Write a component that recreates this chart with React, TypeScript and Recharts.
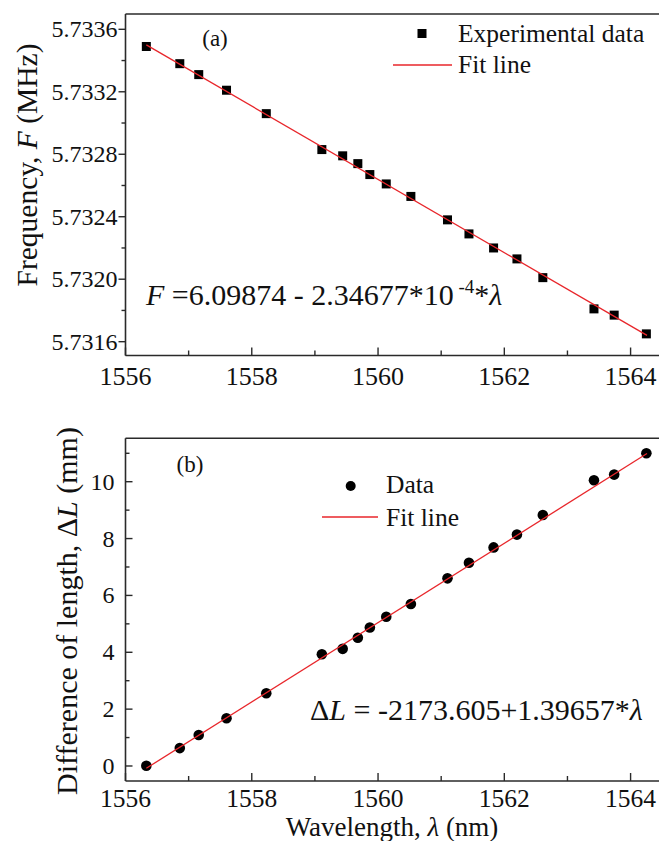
import React from 'react';
import { ScatterChart, Scatter, XAxis, YAxis } from 'recharts';

// values
const wavelength = [
  1556.33, 1556.86, 1557.16, 1557.6, 1558.23, 1559.11, 1559.44, 1559.68, 1559.87, 1560.13,
  1560.52, 1561.1, 1561.44, 1561.83, 1562.2, 1562.61, 1563.42, 1563.74, 1564.25,
];
const frequency = [
  5.73349, 5.73338, 5.73331, 5.73321, 5.73306, 5.73283, 5.73279, 5.73274, 5.73267, 5.73261,
  5.73253, 5.73238, 5.73229, 5.7322, 5.73213, 5.73201, 5.73181, 5.73177, 5.73165,
];
const deltaL = [
  0.01, 0.63, 1.09, 1.68, 2.56, 3.93, 4.12, 4.51, 4.87, 5.25, 5.7, 6.6, 7.15, 7.69, 8.14, 8.83,
  10.05, 10.25, 11.0,
];
const fitWavelength = [1556.33, 1564.26];
const fitFrequency = [5.7335, 5.73164];
const fitDeltaL = [-0.08, 10.99];

const xTicks = [1556, 1557, 1558, 1559, 1560, 1561, 1562, 1563, 1564];
const xLabels = ['1556', '1558', '1560', '1562', '1564'];
const freqTicks = [5.7316, 5.7318, 5.732, 5.7322, 5.7324, 5.7326, 5.7328, 5.733, 5.7332, 5.7334, 5.7336];
const freqLabels = ['5.7316', '5.7320', '5.7324', '5.7328', '5.7332', '5.7336'];
const dlTicks = [0, 1, 2, 3, 4, 5, 6, 7, 8, 9, 10, 11];
const dlLabels = ['0', '2', '4', '6', '8', '10'];

const FONT = '"Liberation Serif", "Times New Roman", serif';
const INK = '#111';
const AXIS = '#2a2a2a';
const RED = '#e8262b';

const freqData = wavelength.map((x, i) => ({ x, y: frequency[i] }));
const dlData = wavelength.map((x, i) => ({ x, y: deltaL[i] }));
const freqFit = fitWavelength.map((x, i) => ({ x, y: fitFrequency[i] }));
const dlFit = fitWavelength.map((x, i) => ({ x, y: fitDeltaL[i] }));

const makeXTick = (dy: number, size: number) => (props: any) => {
  const { x, y, payload } = props;
  const label = xLabels[xLabels.indexOf(String(payload.value))];
  return (
    <g>
      <line x1={x} x2={x} y1={y} y2={y - (label ? 8 : 5)} stroke={AXIS} strokeWidth={1.4} />
      {label && (
        <text x={x} y={y + dy} textAnchor="middle" fontSize={size} fontFamily={FONT} fill={INK}>
          {label}
        </text>
      )}
    </g>
  );
};
const TopXTick = makeXTick(29, 26);
const BottomXTick = makeXTick(26, 25.5);

const FreqTick = (props: any) => {
  const { x, y, index } = props;
  const major = index % 2 === 0;
  return (
    <g>
      <line x1={x} x2={x - (major ? 7 : 4)} y1={y} y2={y} stroke={AXIS} strokeWidth={1.4} />
      {major && (
        <text x={x - 8} y={y + 8} textAnchor="end" fontSize={24} fontFamily={FONT} fill={INK}>
          {freqLabels[index / 2]}
        </text>
      )}
    </g>
  );
};

const DlTick = (props: any) => {
  const { x, y, index } = props;
  const major = index % 2 === 0;
  return (
    <g>
      <line x1={x} x2={x + (major ? 7 : 4)} y1={y} y2={y} stroke={AXIS} strokeWidth={1.4} />
      {major && (
        <text x={x - 11} y={y + 8} textAnchor="end" fontSize={24} fontFamily={FONT} fill={INK}>
          {dlLabels[index / 2]}
        </text>
      )}
    </g>
  );
};

const Square = (props: any) => (
  <rect x={props.cx - 4.5} y={props.cy - 4.5} width={9} height={9} fill="#000" />
);
const Dot = (props: any) => <circle cx={props.cx} cy={props.cy} r={5.3} fill="#000" />;
const NoMark = () => <g />;

const axisLine = { stroke: AXIS, strokeWidth: 1.6 };

const App = () => {
  return (
    <div style={{ position: 'absolute', left: 0, top: 0, width: 659, height: 841, background: '#fff' }}>
      <div style={{ position: 'absolute', left: 0, top: 0 }}>
        <ScatterChart width={659} height={400} margin={{ top: 13, right: 0, bottom: 43.5, left: 124.5 }}>
          <XAxis
            type="number"
            dataKey="x"
            domain={[1556, 1564.45]}
            ticks={xTicks}
            interval={0}
            allowDataOverflow
            height={1}
            tickSize={0}
            tickMargin={0}
            tickLine={false}
            axisLine={axisLine}
            tick={<TopXTick />}
          />
          <XAxis
            xAxisId="top"
            orientation="top"
            type="number"
            dataKey="x"
            domain={[1556, 1564.45]}
            height={1}
            tick={false}
            tickLine={false}
            axisLine={axisLine}
          />
          <YAxis
            type="number"
            dataKey="y"
            domain={[5.7315115, 5.733698]}
            ticks={freqTicks}
            interval={0}
            allowDataOverflow
            width={1}
            tickSize={0}
            tickMargin={0}
            tickLine={false}
            axisLine={axisLine}
            tick={<FreqTick />}
          />
          <Scatter data={freqData} shape={<Square />} isAnimationActive={false} />
          <Scatter
            data={freqFit}
            line={{ stroke: RED, strokeWidth: 1.3 }}
            shape={<NoMark />}
            isAnimationActive={false}
          />
        </ScatterChart>
      </div>
      <div style={{ position: 'absolute', left: 0, top: 400 }}>
        <ScatterChart width={659} height={441} margin={{ top: 37.3, right: 0, bottom: 59, left: 124.5 }}>
          <XAxis
            type="number"
            dataKey="x"
            domain={[1556, 1564.45]}
            ticks={xTicks}
            interval={0}
            allowDataOverflow
            height={1}
            tickSize={0}
            tickMargin={0}
            tickLine={false}
            axisLine={axisLine}
            tick={<BottomXTick />}
          />
          <XAxis
            xAxisId="top"
            orientation="top"
            type="number"
            dataKey="x"
            domain={[1556, 1564.45]}
            height={1}
            tick={false}
            tickLine={false}
            axisLine={axisLine}
          />
          <YAxis
            type="number"
            dataKey="y"
            domain={[-0.528, 11.527]}
            ticks={dlTicks}
            interval={0}
            allowDataOverflow
            width={1}
            tickSize={0}
            tickMargin={0}
            tickLine={false}
            axisLine={axisLine}
            tick={<DlTick />}
          />
          <Scatter data={dlData} shape={<Dot />} isAnimationActive={false} />
          <Scatter
            data={dlFit}
            line={{ stroke: RED, strokeWidth: 1.3 }}
            shape={<NoMark />}
            isAnimationActive={false}
          />
        </ScatterChart>
      </div>
      <svg
        width={659}
        height={841}
        style={{ position: 'absolute', left: 0, top: 0, pointerEvents: 'none', whiteSpace: 'pre' }}
        fontFamily={FONT}
        fill={INK}
      >
        {/* panel (a) */}
        <text transform="translate(37,165) rotate(-90)" textAnchor="middle" fontSize={29.5}>
          Frequency, <tspan fontStyle="italic">F</tspan>  (MHz)
        </text>
        <text x={215} y={46} textAnchor="middle" fontSize={23}>(a)</text>
        <rect x={417.5} y={29} width={9} height={9} fill="#000" />
        <text x={458} y={41.7} fontSize={25.5}>Experimental data</text>
        <line x1={393} x2={452} y1={65} y2={65} stroke={RED} strokeWidth={1.3} />
        <text x={458} y={72.7} fontSize={25.5}>Fit line</text>
        <text x={146} y={305} fontSize={30}>
          <tspan fontStyle="italic">F</tspan> =6.09874 - 2.34677*10
          <tspan dy={-12} fontSize={19}> -4</tspan>
          <tspan dy={12}>*</tspan>
          <tspan fontStyle="italic">λ</tspan>
        </text>

        {/* panel (b) */}
        <text transform="translate(77,611) rotate(-90)" textAnchor="middle" fontSize={30}>
          Difference of length, Δ<tspan fontStyle="italic">L</tspan>  (mm)
        </text>
        <text x={190} y={472} textAnchor="middle" fontSize={23}>(b)</text>
        <circle cx={350.7} cy={486} r={5} fill="#000" />
        <text x={386} y={493.3} fontSize={25.5}>Data</text>
        <line x1={322} x2={378} y1={517} y2={517} stroke={RED} strokeWidth={1.3} />
        <text x={386} y={525.7} fontSize={25.5}>Fit line</text>
        <text x={310} y={720} fontSize={30}>
          Δ<tspan fontStyle="italic">L</tspan> = -2173.605+1.39657*<tspan fontStyle="italic">λ</tspan>
        </text>
        <text x={392} y={836} textAnchor="middle" fontSize={27}>
          Wavelength, <tspan fontStyle="italic">λ</tspan>  (nm)
        </text>
      </svg>
    </div>
  );
};

export default App;
